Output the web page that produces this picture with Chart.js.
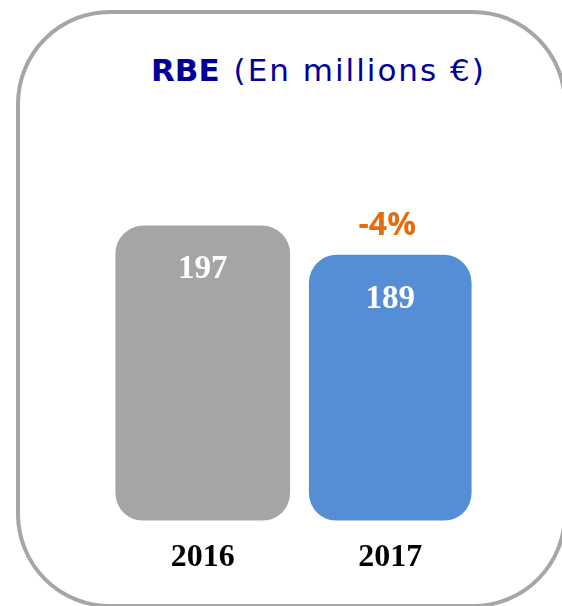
<!DOCTYPE html>
<html>
<head>
<meta charset="utf-8">
<script src="https://cdn.jsdelivr.net/npm/chart.js@4"></script>
<style>
  html, body { margin: 0; padding: 0; background: #fff; overflow: hidden; }
  #wrap { position: relative; width: 562px; height: 606px; overflow: hidden; }
  #frame {
    position: absolute; left: 16px; top: 10px; width: 543px; height: 590px;
    border: 4px solid #a6a6a6; border-radius: 94px; box-sizing: content-box;
  }
  #title {
    position: absolute; left: 151px; top: 52px; white-space: nowrap;
    font-family: "DejaVu Sans", sans-serif; font-size: 31px; color: #000099; line-height: 1.2;
  }
  #title b { font-weight: 700; margin-right: 4px; }
  #title span { letter-spacing: 2px; }
  canvas { position: absolute; left: 0; top: 0; }
</style>
</head>
<body>
<div id="wrap">
  <div id="frame"></div>
  <div id="title"><b>RBE</b> <span>(En millions €)</span></div>
  <canvas id="c" width="562" height="606"></canvas>
</div>
<script>
// données du graphique
const years = ['2016', '2017'];
const rbe = [197, 189];
const barColors = ['#a5a5a5', '#558ed5'];
const barWidths = [174, 162];
const axisMin = 116;

// variation entre les deux années
const change = Math.round((rbe[1] - rbe[0]) / rbe[0] * 100);
const changeLabel = (change > 0 ? '+' : '') + change + '%';

// une série par année pour pouvoir avoir des largeurs différentes
const datasets = rbe.map((v, i) => ({
  label: years[i],
  data: rbe.map((_, j) => (j === i ? v : null)),
  backgroundColor: barColors[i],
  barThickness: barWidths[i],
  base: axisMin,
  borderRadius: 28,
  borderSkipped: false,
  grouped: false
}));

// étiquettes dans les barres + variation au-dessus de 2017
const labelPlugin = {
  id: 'labels',
  afterDatasetsDraw(chart) {
    const ctx = chart.ctx;
    ctx.save();
    ctx.textAlign = 'center';
    ctx.textBaseline = 'middle';
    chart.data.datasets.forEach((ds, i) => {
      const meta = chart.getDatasetMeta(i);
      meta.data.forEach((bar, j) => {
        if (ds.data[j] == null) return;
        ctx.fillStyle = '#ffffff';
        ctx.font = 'bold 33px "Liberation Serif", serif';
        ctx.fillText(String(ds.data[j]), bar.x, bar.y + 44);
        if (j === rbe.length - 1) {
          ctx.fillStyle = '#e46c0a';
          ctx.font = 'bold 32px "Open Sans", sans-serif';
          ctx.fillText(changeLabel, bar.x - 3, bar.y - 29);
        }
      });
    });
    ctx.restore();
  }
};

new Chart(document.getElementById('c'), {
  type: 'bar',
  data: { labels: years, datasets: datasets },
  options: {
    responsive: false,
    animation: false,
    layout: { padding: { left: 109, right: 78, top: 215, bottom: 19 } },
    plugins: { legend: { display: false }, tooltip: { enabled: false } },
    scales: {
      x: {
        grid: { display: false },
        border: { display: false },
        ticks: {
          color: '#000000',
          padding: 10,
          font: { family: '"Liberation Serif", serif', size: 32, weight: 'bold' }
        }
      },
      y: { display: false, min: axisMin, max: 200 }
    }
  },
  plugins: [labelPlugin]
});
</script>
</body>
</html>
